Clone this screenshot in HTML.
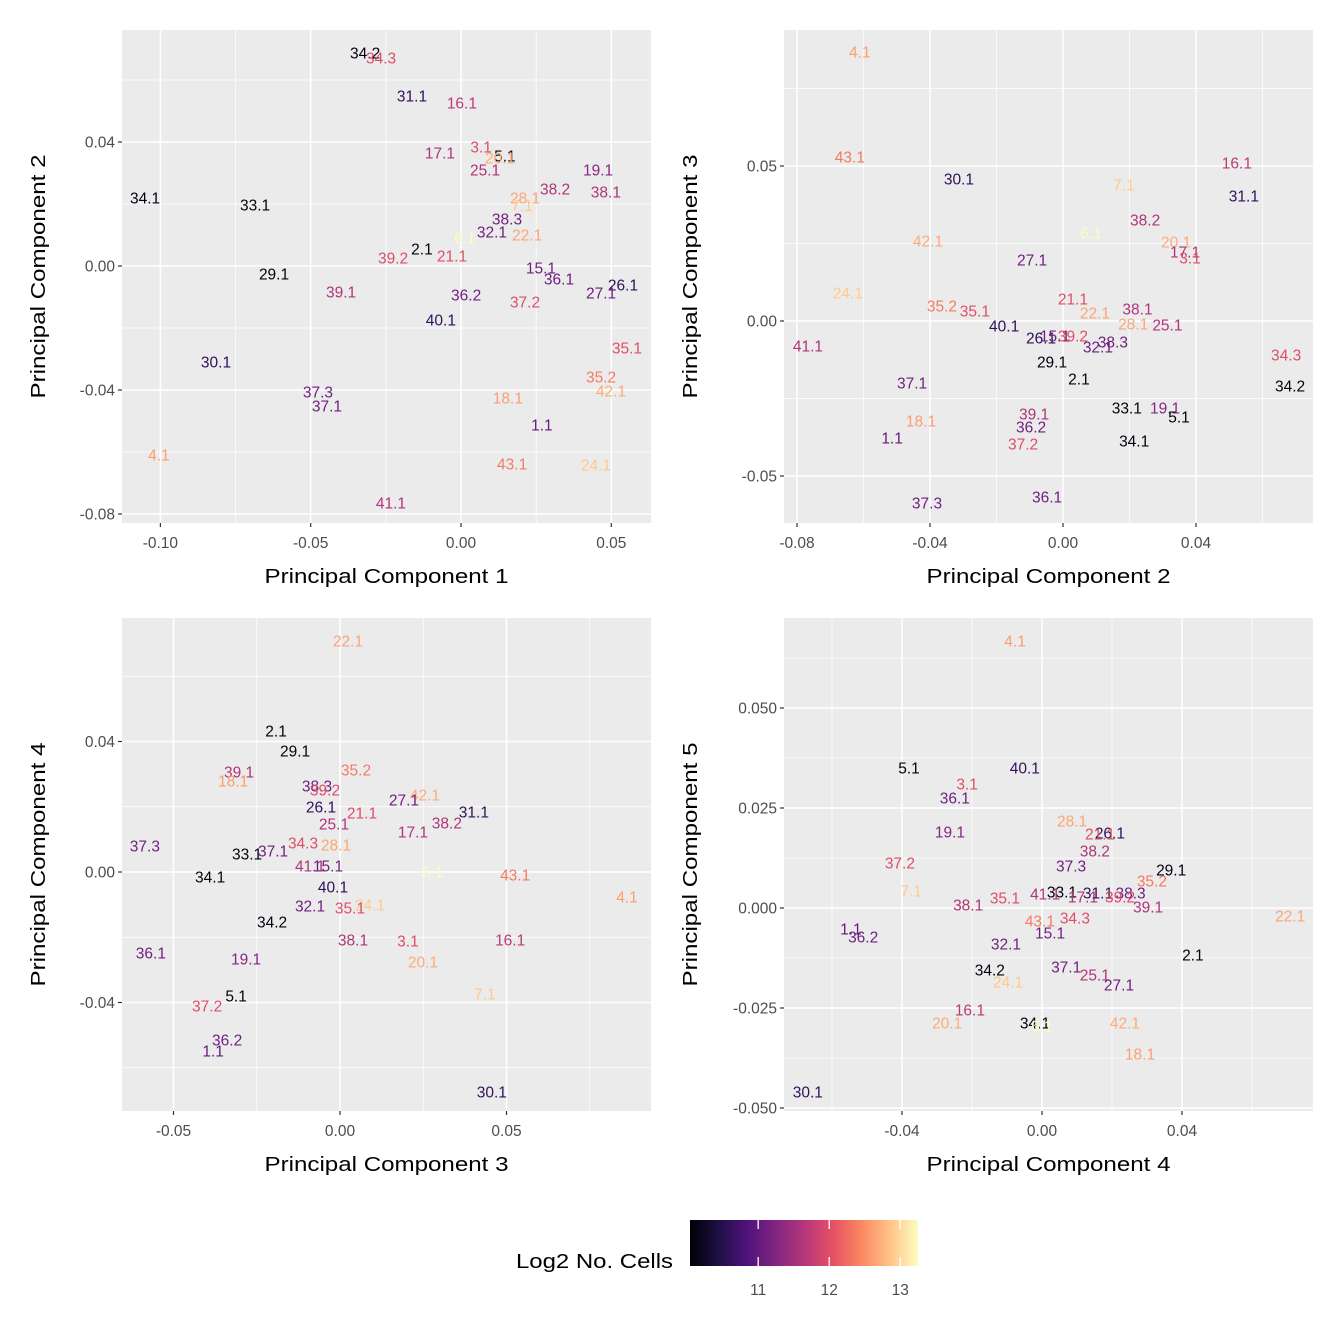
<!DOCTYPE html>
<html><head><meta charset="utf-8"><style>
html,body{margin:0;padding:0;background:#fff;}
svg{display:block;font-family:"Liberation Sans",Arial,sans-serif;}
</style></head><body>
<svg id="chart" width="1344" height="1344" viewBox="0 0 1344 1344" xmlns="http://www.w3.org/2000/svg">
<defs><linearGradient id="magma" x1="0" x2="1" y1="0" y2="0">
<stop offset="0" stop-color="#000004"/><stop offset="0.125" stop-color="#1c1044"/><stop offset="0.25" stop-color="#4f127b"/><stop offset="0.375" stop-color="#812581"/><stop offset="0.5" stop-color="#b5367a"/><stop offset="0.625" stop-color="#e55064"/><stop offset="0.75" stop-color="#fb8761"/><stop offset="0.875" stop-color="#fec287"/><stop offset="1" stop-color="#fcfdbf"/></linearGradient></defs>
</svg>
<script>
const NS="http://www.w3.org/2000/svg";
const svg=document.getElementById('chart');
// color values (log2 number of cells)
const colorLabels=["34.2","5.1","2.1","34.1","33.1","29.1","31.1","26.1","40.1","30.1","27.1","32.1","38.3","37.3","37.1","36.2","36.1","15.1","19.1","38.2","25.1","17.1","16.1","39.1","41.1","38.1","34.3","39.2","21.1","37.2","3.1","35.1","43.1","35.2","18.1","28.1","22.1","4.1","42.1","20.1","24.1","7.1","6.1"];
const colorValues=[10.1,10.1,10.1,10.1,10.1,10.1,10.6,10.6,10.6,10.6,11.1,11.1,11.1,11.1,11.1,11.1,11.1,11.1,11.3,11.6,11.6,11.6,11.7,11.6,11.6,11.6,12.0,12.0,12.0,12.0,12.0,12.0,12.35,12.35,12.6,12.65,12.65,12.6,12.7,12.7,12.9,12.9,13.25];
const cMin=10.04,cMax=13.25;
const legendTicks=[11,12,13];

// Panel 1: PC1 vs PC2
const p1Labels=["34.2","34.3","31.1","16.1","17.1","3.1","5.1","20.1","25.1","19.1","34.1","33.1","28.1","7.1","38.2","38.1","38.3","32.1","6.1","22.1","2.1","39.2","21.1","15.1","36.1","29.1","26.1","27.1","39.1","36.2","37.2","40.1","35.1","30.1","35.2","37.3","42.1","18.1","37.1","1.1","4.1","43.1","24.1","41.1"];
const p1X=[-0.0319,-0.0266,-0.0163,0.0003,-0.007,0.0067,0.0146,0.0130,0.008,0.0456,-0.1051,-0.0685,0.0213,0.0203,0.0313,0.0482,0.0153,0.0103,0.0013,0.022,-0.013,-0.0226,-0.003,0.0266,0.0326,-0.0622,0.0539,0.0466,-0.0399,0.0017,0.0213,-0.0067,0.0552,-0.0815,0.0466,-0.0476,0.0499,0.0156,-0.0446,0.0269,-0.1005,0.017,0.0449,-0.0233];
const p1Y=[0.0687,0.0671,0.0548,0.0526,0.0365,0.0384,0.0355,0.0348,0.031,0.031,0.0219,0.0197,0.0219,0.0195,0.0248,0.0239,0.0152,0.011,0.009,0.01,0.0055,0.0026,0.0032,-0.0006,-0.0042,-0.0026,-0.0061,-0.0087,-0.0084,-0.0094,-0.0116,-0.0174,-0.0265,-0.031,-0.0358,-0.0406,-0.0403,-0.0426,-0.0452,-0.0513,-0.061,-0.0639,-0.0642,-0.0765];
// Panel 2: PC2 vs PC3
const p2Labels=["4.1","43.1","16.1","30.1","7.1","31.1","38.2","6.1","42.1","20.1","17.1","3.1","27.1","24.1","21.1","35.2","35.1","22.1","38.1","28.1","25.1","40.1","26.1","15.1","39.2","38.3","32.1","41.1","34.3","29.1","2.1","37.1","34.2","33.1","19.1","5.1","39.1","18.1","36.2","1.1","34.1","37.2","36.1","37.3"];
const p2X=[-0.0611,-0.0641,0.0523,-0.0313,0.0183,0.0544,0.0247,0.0084,-0.0406,0.034,0.0367,0.0382,-0.0093,-0.0647,0.003,-0.0364,-0.0265,0.0096,0.0224,0.0211,0.0314,-0.0177,-0.0066,-0.0024,0.003,0.015,0.0105,-0.0767,0.0671,-0.0033,0.0048,-0.0454,0.0683,0.0192,0.0307,0.0349,-0.0087,-0.0427,-0.0096,-0.0514,0.0214,-0.012,-0.0048,-0.0409];
const p2Y=[0.0868,0.0529,0.051,0.0458,0.0439,0.0403,0.0326,0.0284,0.0258,0.0255,0.0223,0.0203,0.0197,0.009,0.0071,0.0048,0.0032,0.0026,0.0039,-0.001,-0.0013,-0.0016,-0.0055,-0.0048,-0.0048,-0.0068,-0.0084,-0.0081,-0.011,-0.0132,-0.0187,-0.02,-0.021,-0.0281,-0.0281,-0.031,-0.03,-0.0323,-0.0342,-0.0377,-0.0387,-0.0397,-0.0568,-0.0587];
// Panel 3: PC3 vs PC4
const p3Labels=["22.1","2.1","29.1","35.2","39.1","18.1","38.3","39.2","42.1","27.1","26.1","31.1","21.1","38.2","25.1","17.1","37.3","28.1","34.3","37.1","33.1","41.1","15.1","6.1","43.1","34.1","40.1","4.1","24.1","35.1","32.1","34.2","38.1","3.1","16.1","36.1","19.1","20.1","7.1","5.1","37.2","36.2","1.1","30.1"];
const p3X=[0.0024,-0.0192,-0.0135,0.0048,-0.0303,-0.0321,-0.0069,-0.0045,0.0255,0.0192,-0.0057,0.0402,0.0066,0.0321,-0.0018,0.0219,-0.0586,-0.0012,-0.0111,-0.0201,-0.0279,-0.009,-0.0036,0.0279,0.0526,-0.039,-0.0021,0.0862,0.009,0.003,-0.009,-0.0204,0.0039,0.0204,0.0511,-0.0568,-0.0282,0.0249,0.0435,-0.0312,-0.0399,-0.0339,-0.0381,0.0456];
const p3Y=[0.0708,0.0432,0.0371,0.0313,0.0307,0.0279,0.0264,0.0251,0.0236,0.0221,0.0199,0.0184,0.0181,0.015,0.0147,0.0123,0.008,0.0083,0.0089,0.0064,0.0055,0.0018,0.0018,0.0,-0.0009,-0.0015,-0.0046,-0.0077,-0.0101,-0.011,-0.0104,-0.0153,-0.0208,-0.0212,-0.0208,-0.0248,-0.0267,-0.0276,-0.0374,-0.038,-0.0411,-0.0515,-0.0549,-0.0674];
// Panel 4: PC4 vs PC5
const p4Labels=["4.1","5.1","40.1","3.1","36.1","28.1","26.1","21.1","19.1","38.2","37.2","37.3","29.1","35.2","7.1","33.1","41.1","17.1","31.1","38.3","39.2","39.1","38.1","35.1","43.1","34.3","15.1","22.1","1.1","36.2","32.1","2.1","34.2","37.1","25.1","24.1","27.1","16.1","20.1","34.1","6.1","42.1","18.1","30.1"];
const p4X=[-0.0077,-0.038,-0.0049,-0.0214,-0.0249,0.0086,0.0194,0.0166,-0.0263,0.0151,-0.0406,0.0083,0.0369,0.0314,-0.0374,0.0057,0.0009,0.0117,0.0160,0.0253,0.0223,0.0303,-0.0211,-0.0106,-0.0006,0.0094,0.0023,0.0709,-0.0546,-0.0511,-0.0103,0.0431,-0.0149,0.0069,0.0151,-0.0097,0.022,-0.0206,-0.0271,-0.002,0,0.0237,0.028,-0.0669];
const p4Y=[0.0668,0.035,0.035,0.031,0.0275,0.0218,0.0188,0.0185,0.019,0.0143,0.0113,0.0105,0.0095,0.0068,0.0043,0.004,0.0035,0.0028,0.0038,0.0038,0.0028,0.0003,0.0008,0.0025,-0.0033,-0.0025,-0.0063,-0.002,-0.0053,-0.0073,-0.009,-0.0118,-0.0155,-0.0148,-0.0168,-0.0185,-0.0193,-0.0255,-0.0288,-0.0288,-0.0295,-0.0288,-0.0365,-0.046];

const p1XTicks=[-0.10,-0.05,0.00,0.05], p1XTickLabels=["-0.10","-0.05","0.00","0.05"];
const p1YTicks=[0.04,0.00,-0.04,-0.08], p1YTickLabels=["0.04","0.00","-0.04","-0.08"];
const p2XTicks=[-0.08,-0.04,0.00,0.04], p2XTickLabels=["-0.08","-0.04","0.00","0.04"];
const p2YTicks=[0.05,0.00,-0.05], p2YTickLabels=["0.05","0.00","-0.05"];
const p3XTicks=[-0.05,0.00,0.05], p3XTickLabels=["-0.05","0.00","0.05"];
const p3YTicks=[0.04,0.00,-0.04], p3YTickLabels=["0.04","0.00","-0.04"];
const p4XTicks=[-0.04,0.00,0.04], p4XTickLabels=["-0.04","0.00","0.04"];
const p4YTicks=[0.050,0.025,0.000,-0.025,-0.050], p4YTickLabels=["0.050","0.025","0.000","-0.025","-0.050"];

function el(tag,attrs,parent){const e=document.createElementNS(NS,tag);for(const k in attrs)e.setAttribute(k,attrs[k]);(parent||svg).appendChild(e);return e;}
function lerpHex(a,b,t){const pa=[1,3,5].map(i=>parseInt(a.substr(i,2),16)),pb=[1,3,5].map(i=>parseInt(b.substr(i,2),16));return 'rgb('+pa.map((v,i)=>Math.round(v+(pb[i]-v)*t)).join(',')+')';}
const magma=["#000004","#1c1044","#4f127b","#812581","#b5367a","#e55064","#fb8761","#fec287","#fcfdbf"];
function colorFor(lbl){const i=colorLabels.indexOf(lbl);const v=i>=0?colorValues[i]:11;let t=(v-cMin)/(cMax-cMin);t=Math.max(0,Math.min(1,t));const s=t*8,k=Math.min(7,Math.floor(s));return lerpHex(magma[k],magma[k+1],s-k);}

function panel(cfg){
  const {name,L,R,T,B,xt,xtl,yt,ytl,xa,ya,labels,xs,ys,xTitle,yTitle,yTitleX}=cfg;
  const sx=v=>xa[1]+(v-xa[0])*(xa[3]-xa[1])/(xa[2]-xa[0]);
  const sy=v=>ya[1]+(v-ya[0])*(ya[3]-ya[1])/(ya[2]-ya[0]);
  const g=el('g',{});
  
  
  const bg=el('rect',{x:L,y:T,width:R-L,height:B-T,fill:'#ebebeb'},g);
  
  
  const xs2=xt.slice().sort((a,b)=>a-b), ys2=yt.slice().sort((a,b)=>a-b);
  const dx=xs2[1]-xs2[0], dy=ys2[1]-ys2[0];
  for(let v=xs2[0]-dx/2; v<=xs2[xs2.length-1]+dx; v+=dx){const p=sx(v);if(p>L&&p<R){const ln=el('line',{x1:p,x2:p,y1:T,y2:B,stroke:'#fff','stroke-width':0.7},g);}}
  for(let v=ys2[0]-dy/2; v<=ys2[ys2.length-1]+dy; v+=dy){const p=sy(v);if(p>T&&p<B){const ln=el('line',{x1:L,x2:R,y1:p,y2:p,stroke:'#fff','stroke-width':0.7},g);}}
  xt.forEach((v,i)=>{const p=sx(v);
    const ln=el('line',{x1:p,x2:p,y1:T,y2:B,stroke:'#fff','stroke-width':1.5},g);
    const tk=el('line',{x1:p,x2:p,y1:B,y2:B+4,stroke:'#333','stroke-width':1.2},g);
    const t=el('text',{x:p,y:B+25,'text-anchor':'middle','font-size':15.5,fill:'#4d4d4d'},g);t.textContent=xtl[i];});
  yt.forEach((v,i)=>{const p=sy(v);
    const ln=el('line',{x1:L,x2:R,y1:p,y2:p,stroke:'#fff','stroke-width':1.5},g);
    const tk=el('line',{x1:L-4,x2:L,y1:p,y2:p,stroke:'#333','stroke-width':1.2},g);
    const t=el('text',{x:L-7,y:p+5.5,'text-anchor':'end','font-size':15.5,fill:'#4d4d4d'},g);t.textContent=ytl[i];});
  labels.forEach((lb,i)=>{const t=el('text',{x:sx(xs[i]),y:sy(ys[i])+5.5,'text-anchor':'middle','font-size':15.5,fill:colorFor(lb)},g);t.textContent=lb;
    
    });
  const xtT=el('text',{x:(L+R)/2,y:B+60,'text-anchor':'middle','font-size':20.5,fill:'#000',textLength:244,lengthAdjust:'spacingAndGlyphs'},g);xtT.textContent=xTitle;
  
  
  const cy=(T+B)/2;
  const ytT=el('text',{x:yTitleX,y:cy,'text-anchor':'middle','font-size':20.5,fill:'#000',textLength:244,lengthAdjust:'spacingAndGlyphs',transform:'rotate(-90 '+yTitleX+' '+cy+')'},g);ytT.textContent=yTitle;
  
  
}
panel({name:'panel-pc1-pc2',L:122,R:651,T:30,B:523,xt:p1XTicks,xtl:p1XTickLabels,yt:p1YTicks,ytl:p1YTickLabels,xa:[0,461,0.05,611.3],ya:[0,266,0.04,142],labels:p1Labels,xs:p1X,ys:p1Y,xTitle:'Principal Component 1',yTitle:'Principal Component 2',yTitleX:45});
panel({name:'panel-pc2-pc3',L:784,R:1313,T:30,B:523,xt:p2XTicks,xtl:p2XTickLabels,yt:p2YTicks,ytl:p2YTickLabels,xa:[0,1063,0.04,1196],ya:[0,321,0.05,166],labels:p2Labels,xs:p2X,ys:p2Y,xTitle:'Principal Component 2',yTitle:'Principal Component 3',yTitleX:697});
panel({name:'panel-pc3-pc4',L:122,R:651,T:618,B:1111,xt:p3XTicks,xtl:p3XTickLabels,yt:p3YTicks,ytl:p3YTickLabels,xa:[0,340,0.05,506.5],ya:[0,872,0.04,741.5],labels:p3Labels,xs:p3X,ys:p3Y,xTitle:'Principal Component 3',yTitle:'Principal Component 4',yTitleX:45});
panel({name:'panel-pc4-pc5',L:784,R:1313,T:618,B:1111,xt:p4XTicks,xtl:p4XTickLabels,yt:p4YTicks,ytl:p4YTickLabels,xa:[0,1042,0.04,1182],ya:[0,908,0.025,808],labels:p4Labels,xs:p4X,ys:p4Y,xTitle:'Principal Component 4',yTitle:'Principal Component 5',yTitleX:697});

// legend
const lg=el('g',{});


const lt=el('text',{x:673,y:1268,'text-anchor':'end','font-size':20.5,fill:'#000',textLength:157,lengthAdjust:'spacingAndGlyphs'},lg);lt.textContent='Log2 No. Cells';


const bL=690,bR=918,bT=1220,bB=1266;
const bar=el('rect',{x:bL,y:bT,width:bR-bL,height:bB-bT,fill:'url(#magma)'},lg);


legendTicks.forEach(v=>{const p=bL+(v-cMin)/(cMax-cMin)*(bR-bL);
  el('line',{x1:p,x2:p,y1:bT,y2:bT+9,stroke:'#fff','stroke-width':1.3},lg);
  el('line',{x1:p,x2:p,y1:bB-9,y2:bB,stroke:'#fff','stroke-width':1.3},lg);
  const t=el('text',{x:p,y:bB+29,'text-anchor':'middle','font-size':15.5,fill:'#4d4d4d'},lg);t.textContent=String(v);
  
  });
</script>
</body></html>
